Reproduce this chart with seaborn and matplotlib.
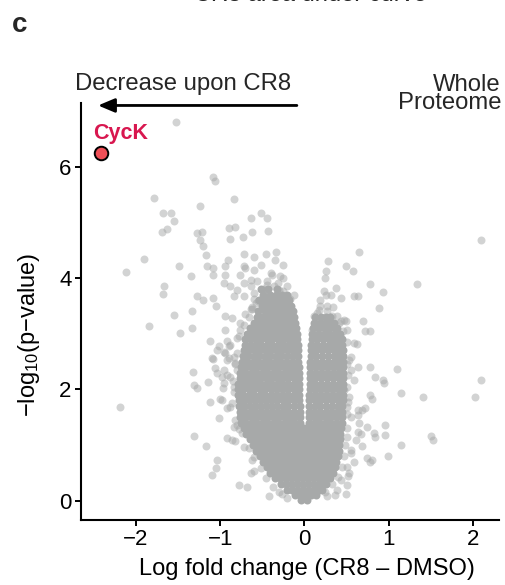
import matplotlib
matplotlib.use("Agg")
import matplotlib.pyplot as plt
import seaborn as sns
import pandas as pd

# ---------------------------------------------------------------------------
# Data: log fold change (CR8 - DMSO) and -log10(p-value) per protein
# ---------------------------------------------------------------------------

# Highlighted hit
cyck_x = [-2.41]
cyck_y = [6.24]
cyck_label = "CycK"

# Dense bulk of the proteome, read row by row (one list of fold changes per p-value level)
core_levels = [0.02, 0.10, 0.20, 0.30, 0.40, 0.50, 0.60, 0.70, 0.80, 0.90,
               1.00, 1.10, 1.20, 1.30, 1.40, 1.50, 1.60, 1.70, 1.80, 1.90,
               2.00, 2.10, 2.20, 2.30, 2.40, 2.50, 2.60, 2.70, 2.80, 2.90,
               3.00, 3.10, 3.20, 3.30, 3.40, 3.50, 3.60, 3.70, 3.80]
core_rows = [
    [-0.04, 0.03],
    [-0.11, -0.05, 0.02, 0.08, 0.14],
    [-0.21, -0.15, -0.08, -0.02, 0.05, 0.11, 0.17, 0.21],
    [-0.28, -0.22, -0.15, -0.09, -0.02, 0.04, 0.11, 0.17, 0.23, 0.26],
    [-0.35, -0.29, -0.22, -0.16, -0.09, -0.03, 0.04, 0.10, 0.17, 0.23, 0.30],
    [-0.41, -0.35, -0.28, -0.22, -0.15, -0.09, -0.02, 0.04, 0.11, 0.17, 0.24, 0.30, 0.34],
    [-0.45, -0.39, -0.32, -0.26, -0.19, -0.13, -0.06, 0.00, 0.07, 0.13, 0.20, 0.26, 0.32, 0.36],
    [-0.49, -0.43, -0.36, -0.30, -0.23, -0.17, -0.10, -0.04, 0.03, 0.09, 0.16, 0.22, 0.29, 0.35, 0.38],
    [-0.53, -0.47, -0.40, -0.34, -0.27, -0.21, -0.14, -0.08, -0.01, 0.05, 0.12, 0.18, 0.25, 0.31, 0.37, 0.40],
    [-0.57, -0.51, -0.44, -0.38, -0.31, -0.25, -0.18, -0.12, -0.05, 0.01, 0.08, 0.14, 0.21, 0.27, 0.34, 0.41],
    [-0.61, -0.55, -0.48, -0.42, -0.35, -0.29, -0.22, -0.16, -0.09, -0.03, 0.04, 0.10, 0.17, 0.23, 0.30, 0.36, 0.41],
    [-0.65, -0.59, -0.52, -0.46, -0.39, -0.33, -0.26, -0.20, -0.13, -0.07, 0.00, 0.06, 0.13, 0.19, 0.26, 0.32, 0.38, 0.42],
    [-0.69, -0.63, -0.56, -0.50, -0.43, -0.37, -0.30, -0.24, -0.17, -0.11, -0.04, 0.02, 0.09, 0.15, 0.22, 0.28, 0.35, 0.42],
    [-0.72, -0.66, -0.59, -0.53, -0.46, -0.40, -0.33, -0.27, -0.20, -0.14, -0.07, -0.01, 0.06, 0.12, 0.19, 0.25, 0.32, 0.38, 0.43],
    [-0.75, -0.69, -0.62, -0.56, -0.49, -0.43, -0.36, -0.30, -0.23, -0.17, -0.11, -0.055, 0.05, 0.11, 0.17, 0.24, 0.30, 0.37, 0.44],
    [-0.76, -0.70, -0.63, -0.57, -0.50, -0.44, -0.37, -0.31, -0.24, -0.18, -0.12, -0.055, 0.05, 0.12, 0.19, 0.26, 0.32, 0.39, 0.45],
    [-0.77, -0.71, -0.64, -0.58, -0.51, -0.45, -0.38, -0.32, -0.25, -0.19, -0.12, -0.055, 0.05, 0.11, 0.18, 0.25, 0.32, 0.39, 0.45],
    [-0.78, -0.72, -0.65, -0.59, -0.52, -0.46, -0.39, -0.33, -0.26, -0.19, -0.12, -0.055, 0.055, 0.12, 0.19, 0.26, 0.33, 0.40, 0.45],
    [-0.78, -0.72, -0.66, -0.59, -0.53, -0.46, -0.40, -0.33, -0.26, -0.19, -0.12, -0.06, 0.055, 0.12, 0.19, 0.26, 0.33, 0.40, 0.46],
    [-0.79, -0.73, -0.66, -0.60, -0.53, -0.47, -0.40, -0.33, -0.26, -0.19, -0.12, -0.06, 0.055, 0.12, 0.19, 0.26, 0.33, 0.40, 0.46],
    [-0.79, -0.73, -0.66, -0.60, -0.53, -0.47, -0.40, -0.34, -0.27, -0.20, -0.13, -0.065, 0.06, 0.13, 0.20, 0.27, 0.34, 0.41, 0.46],
    [-0.79, -0.72, -0.66, -0.59, -0.53, -0.46, -0.40, -0.33, -0.27, -0.20, -0.13, -0.065, 0.06, 0.13, 0.20, 0.27, 0.34, 0.41, 0.46],
    [-0.77, -0.71, -0.64, -0.58, -0.51, -0.45, -0.38, -0.32, -0.25, -0.19, -0.13, -0.07, 0.065, 0.13, 0.20, 0.27, 0.34, 0.41, 0.46],
    [-0.76, -0.70, -0.63, -0.57, -0.50, -0.44, -0.37, -0.31, -0.24, -0.18, -0.12, -0.07, 0.065, 0.13, 0.20, 0.27, 0.34, 0.41, 0.46],
    [-0.75, -0.69, -0.62, -0.56, -0.49, -0.43, -0.36, -0.30, -0.23, -0.17, -0.12, -0.07, 0.07, 0.14, 0.21, 0.28, 0.35, 0.41, 0.46],
    [-0.74, -0.68, -0.61, -0.55, -0.48, -0.42, -0.35, -0.29, -0.22, -0.15, -0.075, 0.07, 0.14, 0.21, 0.28, 0.35, 0.41, 0.46],
    [-0.73, -0.67, -0.60, -0.54, -0.47, -0.41, -0.34, -0.28, -0.21, -0.14, -0.075, 0.075, 0.14, 0.21, 0.28, 0.35, 0.41, 0.46],
    [-0.72, -0.66, -0.59, -0.53, -0.46, -0.40, -0.33, -0.27, -0.20, -0.14, -0.075, 0.075, 0.14, 0.21, 0.28, 0.35, 0.41, 0.46],
    [-0.71, -0.65, -0.58, -0.52, -0.45, -0.39, -0.32, -0.26, -0.19, -0.14, -0.08, 0.08, 0.15, 0.22, 0.29, 0.35, 0.41, 0.45],
    [-0.70, -0.64, -0.57, -0.51, -0.44, -0.38, -0.31, -0.25, -0.18, -0.13, -0.085, 0.085, 0.15, 0.22, 0.29, 0.35, 0.41, 0.44],
    [-0.68, -0.62, -0.55, -0.49, -0.42, -0.36, -0.29, -0.23, -0.16, -0.09, 0.09, 0.16, 0.23, 0.29, 0.36, 0.42],
    [-0.65, -0.59, -0.52, -0.46, -0.39, -0.33, -0.26, -0.20, -0.14, -0.10, 0.10, 0.17, 0.24, 0.30, 0.36, 0.39],
    [-0.60, -0.54, -0.47, -0.41, -0.34, -0.28, -0.21, -0.16, -0.11, 0.11, 0.18, 0.25, 0.31, 0.35],
    [-0.56, -0.50, -0.43, -0.37, -0.30, -0.24, -0.18, -0.13, 0.13, 0.20, 0.26, 0.30],
    [-0.55, -0.47, -0.40, -0.33, -0.26, -0.20, -0.14],
    [-0.50, -0.43, -0.36, -0.29, -0.22, -0.16],
    [-0.54, -0.47, -0.40, -0.33, -0.25, -0.18],
    [-0.49, -0.41, -0.34, -0.27, -0.21],
    [-0.52, -0.43, -0.33],
]

# Scattered proteins outside the dense bulk
other_x = [
    -1.52, -1.08, -1.06, -1.79, -0.84, -1.24, -1.68, -1.58, -1.55, -1.69, -1.63,
    -0.64, -0.52, -0.45, -1.28, -1.22, -1.24, -1.21, -1.17, -0.89, -0.82, -0.88,
    -0.73, -0.62, -0.43, -1.90, -2.12, -1.49, -1.35, -1.16, -1.08, -1.08, -0.94,
    -0.91, -0.94,
    -0.72, -0.60, -0.46, -0.34, -0.52, -0.35, -0.25, -0.70, -0.76, -0.64, -0.40,
    -0.25, -0.26, -0.72, -0.60, -0.38, -0.29, -0.56, -0.44, -0.32,
    -0.96, -0.88, -0.80, -0.72, -0.64, -0.84, -0.72, -0.60, -0.44, -0.36, -0.21,
    -0.48,
    -1.67, -1.68, -1.27, -1.21, -1.08, -1.05, -1.84, -1.55, -1.48, -1.33, -1.33,
    -2.19, -1.32, -1.31, -1.27, -1.14, -1.31, -1.17, -1.12, -1.10, -1.08, -1.06,
    -1.04, -1.12, -1.00, -0.98, -1.01, -0.97, -1.04, -1.05, -1.10, -0.78, -0.68,
    -0.42, -0.92, -0.82, -0.94, -0.86, -0.92, -0.90, -0.94, -0.90, -0.96, -0.92,
    -0.98, -0.92, -0.88, -0.84, -0.80, -0.64, -0.60, -0.94, -0.76, -1.02, -0.96,
    -0.88, -0.92, -0.84, -1.04, -0.88, -0.80, -0.96, -0.84, -0.72, -0.62, -0.86,
    0.78, 0.93, 1.33, 0.38, 0.59, 0.64, 0.88, 0.70, 0.72, 0.78, 0.49, 0.62, 0.78,
    1.10, 0.84, 0.93, 0.95, 2.09, 2.03, 1.41, 1.14, 0.78, 0.80, 0.68, 0.72, 0.64,
    0.96, 0.96, 0.63, 0.67, 0.74, 0.82, 0.84, 1.50, 1.52, 1.14, 0.99, 0.68, 0.74,
    0.80, 0.78, 0.50, -0.21, 0.27, 0.55, 0.59,
    2.09, 0.65, 0.28, 0.49, 0.58, 0.25, 0.24, 0.23, 0.26,
    0.31, 0.43, 0.19, 0.27, 0.39, 0.47, 0.51, 0.59, 0.55, 0.63, 0.59, 0.47, 0.11,
    0.15, 0.23, 0.09, 0.63, 0.65, 0.61, 0.55, 0.51, 0.41, 0.45, 0.53, 0.55, 0.51,
    0.53, 0.51, 0.55, 0.51, 0.53, 0.43, 0.39, 0.27, 0.19, 0.33, 0.43, 0.15,
    -0.58, -0.63, -0.17, -0.12, -0.30, -0.55, -0.84, -0.82, -0.80, -0.76, -0.70,
    -0.62, -0.48, 0.34, 0.17, 0.52, 0.49, -0.30, 0.36,
    -0.83, -0.86, -0.85, -0.83, -0.80, -0.78, -0.72, -0.66, -0.62, -0.60, -0.74,
    -0.66, -0.60, -0.52, -0.46, -0.37, -0.27, -0.78,
    0.47, 0.48, 0.50, 0.51, 0.52, 0.52, 0.51, 0.50, 0.46, 0.41, 0.44, 0.40, 0.33,
    0.24,
]
other_y = [
    6.81, 5.82, 5.75, 5.43, 5.42, 5.29, 5.17, 5.17, 5.03, 4.83, 4.88,
    5.07, 5.17, 5.08, 4.81, 4.82, 4.69, 4.57, 4.42, 4.90, 4.92, 4.71,
    4.74, 4.82, 4.84, 4.34, 4.10, 4.21, 4.03, 4.21, 4.18, 4.05, 4.21,
    4.33, 4.05,
    4.44, 4.37, 4.44, 4.47, 4.24, 4.33, 4.24, 4.18, 4.06, 3.97, 4.09,
    4.00, 3.76, 4.21, 4.15, 4.06, 4.03, 3.94, 3.94, 3.91,
    3.91, 3.85, 3.79, 3.91, 3.85, 3.67, 3.67, 3.73, 3.88, 3.85, 3.85,
    3.73,
    3.85, 3.72, 3.67, 3.61, 3.65, 3.50, 3.14, 3.34, 3.02, 3.41, 3.11,
    1.68, 2.31, 2.08, 2.02, 2.14, 1.17, 0.98, 2.87, 2.56, 2.54, 2.39,
    2.71, 1.77, 1.83, 1.81, 1.48, 2.02, 0.73, 0.58, 0.47, 0.28, 0.25,
    0.09, 1.12, 1.07, 3.31, 3.29, 2.86, 2.77, 2.65, 2.56, 2.35, 2.26,
    2.23, 1.66, 1.69, 1.33, 1.36, 0.49, 0.53, 3.07, 3.07, 2.77, 2.68,
    2.80, 2.53, 2.59, 2.29, 2.23, 2.35, 2.11, 2.05, 0.97, 0.73, 1.09,
    3.89, 3.75, 3.89, 3.82, 3.67, 3.68, 3.46, 3.22, 3.05, 3.04, 3.22, 2.81, 2.40,
    2.36, 2.23, 2.17, 2.11, 2.17, 1.87, 1.86, 1.93, 1.90, 1.83, 1.63, 1.66, 1.54,
    1.36, 1.18, 1.24, 1.19, 1.33, 1.21, 1.15, 1.16, 1.09, 1.00, 0.80, 0.99, 0.76,
    0.73, 0.69, 0.28, 0.04, 0.08, 0.85, 0.70,
    4.69, 4.46, 4.30, 4.22, 4.12, 4.12, 4.00, 3.76, 3.70,
    3.70, 3.64, 3.49, 3.40, 3.31, 3.25, 3.07, 2.83, 2.59, 2.41, 2.17, 1.99, 3.31,
    3.19, 3.25, 3.07, 1.63, 1.39, 1.09, 0.91, 0.61, 2.92, 2.71, 2.53, 2.35, 2.05,
    1.87, 1.69, 1.51, 1.15, 0.49, 0.37, 0.19, 3.49, 3.61, 3.31, 3.22, 3.37,
    3.55, 3.45, 3.62, 3.70, 3.78, 3.58, 1.95, 2.48, 2.92, 3.20, 3.35,
    3.48, 3.80, 3.48, 3.42, 0.45, 0.12, 0.15, 0.10,
    1.45, 1.75, 2.15, 2.45, 2.65, 2.95, 3.15, 3.30, 3.45, 3.62, 1.22,
    0.95, 0.78, 0.58, 0.40, 0.25, 0.12, 1.28,
    0.80, 1.00, 1.30, 1.55, 1.78, 2.25, 2.45, 2.85, 3.05, 3.20, 0.60, 0.42, 0.30,
    0.15,
]

x_ticks = [-2, -1, 0, 1, 2]
y_ticks = [0, 2, 4, 6]

GREY = "#A7A9A9"
RED_FILL = "#EF4F57"
RED_TEXT = "#D8174F"

# ---------------------------------------------------------------------------
# Styling
# ---------------------------------------------------------------------------
sns.set_theme(style="ticks")
plt.rcParams["font.family"] = ["Liberation Sans", "DejaVu Sans"]
plt.rcParams["mathtext.fontset"] = "custom"
plt.rcParams["mathtext.rm"] = "Liberation Sans"
plt.rcParams["mathtext.it"] = "Liberation Sans:italic"
plt.rcParams["mathtext.bf"] = "Liberation Sans:bold"

core = pd.DataFrame({
    "lfc": [x for row in core_rows for x in row],
    "logp": [lvl for lvl, row in zip(core_levels, core_rows) for _ in row],
})
others = pd.DataFrame({"lfc": other_x, "logp": other_y})
hit = pd.DataFrame({"lfc": cyck_x, "logp": cyck_y})

fig = plt.figure(figsize=(5.05, 5.85), dpi=100)
ax = fig.add_axes([0.1598, 0.1111, 0.8283, 0.7128])

# overplotted bulk renders as a solid mass
sns.scatterplot(data=core, x="lfc", y="logp", color=GREY, alpha=1.0,
                s=33, linewidth=0, ax=ax, legend=False)
sns.scatterplot(data=others, x="lfc", y="logp", color=GREY, alpha=0.5,
                s=33, linewidth=0, ax=ax, legend=False)
sns.scatterplot(data=hit, x="lfc", y="logp", color=RED_FILL, edgecolor="black",
                linewidth=1.4, s=95, ax=ax, legend=False, zorder=5)
ax.annotate(cyck_label, xy=(cyck_x[0], cyck_y[0]), xytext=(-6, 10.5),
            textcoords="offset points", ha="left", va="baseline",
            fontsize=15.5, fontweight="bold", color=RED_TEXT)

ax.set_xlim(-2.656, 2.309)
ax.set_ylim(-0.347, 7.144)
ax.set_xticks(x_ticks)
ax.set_yticks(y_ticks)
ax.set_xticklabels([f"{t}".replace("-", "\u2212") for t in x_ticks])
ax.set_yticklabels([str(t) for t in y_ticks])

for side in ("top", "right"):
    ax.spines[side].set_visible(False)
for side in ("left", "bottom"):
    ax.spines[side].set_linewidth(1.5)
    ax.spines[side].set_color("black")
ax.tick_params(axis="both", length=4, width=1.4, color="black",
               labelsize=16, labelcolor="black", pad=2.5)

ax.set_xlabel("Log fold change (CR8 \u2013 DMSO)", fontsize=17, color="black")
ax.set_ylabel("\u2212log$_{10}$(p\u2212value)", fontsize=17, color="black")
ax.xaxis.set_label_coords(0.541, -0.092)
ax.yaxis.set_label_coords(-0.092, 0.444)

# Direction arrow above the plot
ax.annotate("", xy=(-2.45, 7.10), xytext=(-0.09, 7.10),
            arrowprops=dict(arrowstyle="-|>,head_length=1.0,head_width=0.42",
                            color="black", lw=2.0, mutation_scale=10,
                            shrinkA=0, shrinkB=0),
            annotation_clip=False)

fig.text(183.5 / 505, 1 - 90 / 585, "Decrease upon CR8", ha="center",
         va="baseline", fontsize=17.2)
fig.text(501 / 505, 1 - 109 / 585, "Whole\nProteome", ha="right", va="baseline",
         multialignment="right", linespacing=0.78, fontsize=17.2)
fig.text(12 / 505, 1 - 32 / 585, "c", ha="left", va="baseline", fontsize=20,
         fontweight="bold")
# title of the neighbouring panel, running off the top edge
fig.text(310 / 505, 1 - 1.2 / 585, "CR8 area under curve", ha="center",
         va="baseline", fontsize=17)

fig.savefig("out.png", dpi=100)
